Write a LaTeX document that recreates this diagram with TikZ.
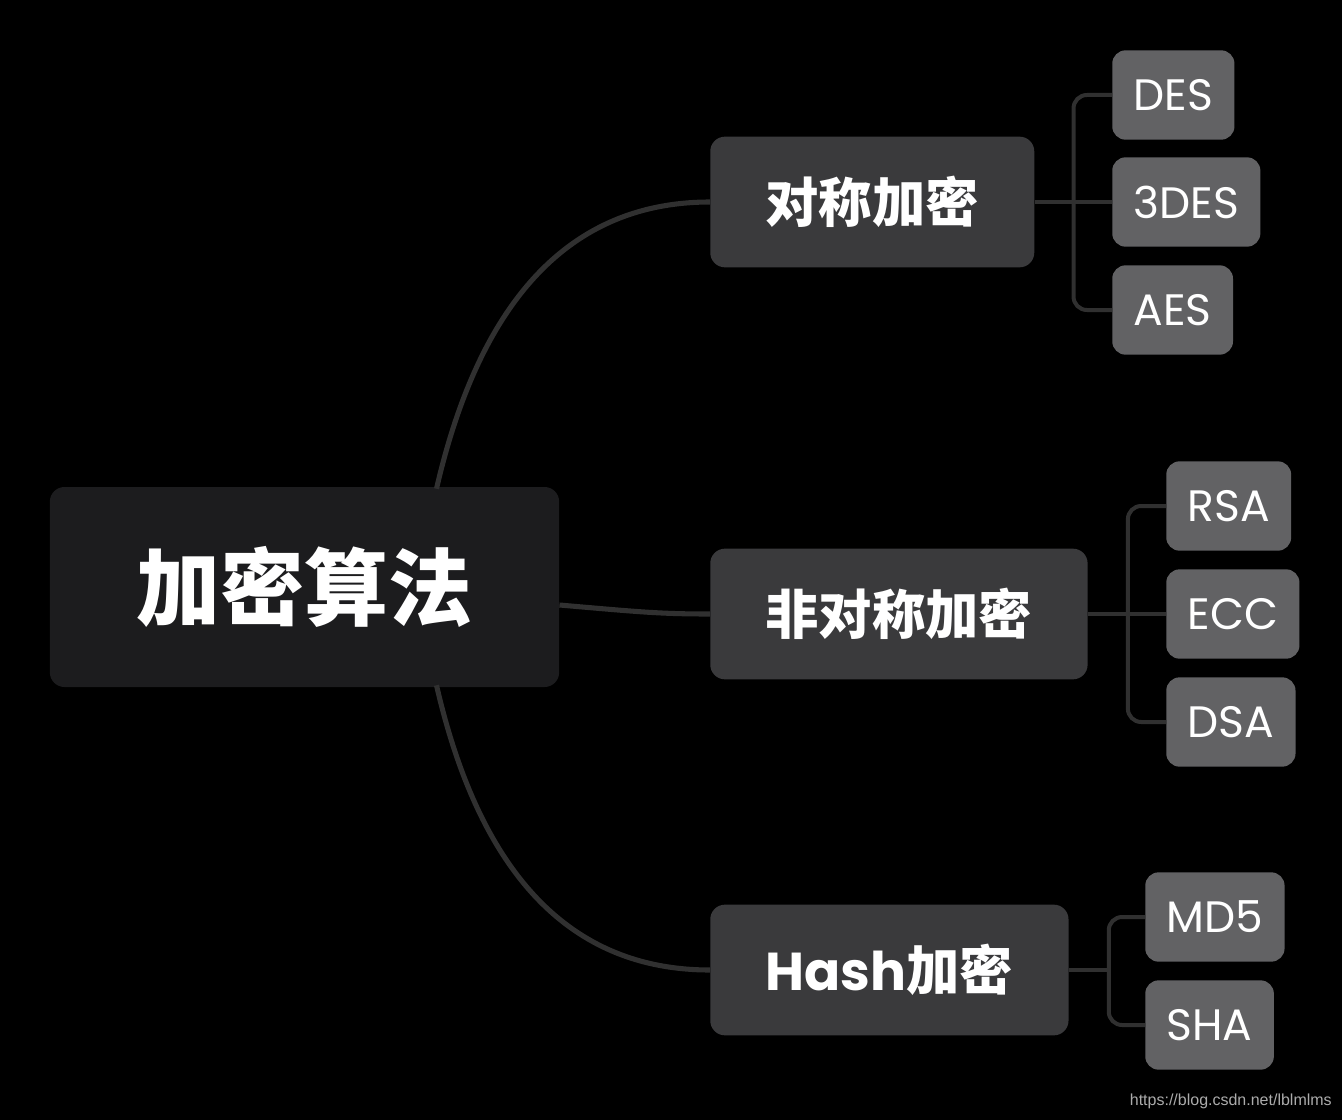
\documentclass[tikz,border=0pt]{standalone}
\usepackage{fontspec}
\setmainfont{Poppins}
\newfontfamily\cjk{Noto Sans CJK SC}
\newfontfamily\wmfont{Liberation Sans}
\usetikzlibrary{positioning}
\definecolor{rootfill}{HTML}{1C1C1E}
\definecolor{topicfill}{HTML}{3A3A3C}
\definecolor{leaffill}{HTML}{626264}
\definecolor{linkcol}{HTML}{303030}
\tikzset{
  x=0.75pt, y=-0.75pt,
  root/.style={fill=rootfill, rounded corners=11pt, text=white, inner xsep=65pt,
    minimum height=150pt, font=\cjk\bfseries\fontsize{63}{63}\selectfont},
  topic/.style={fill=topicfill, rounded corners=11pt, text=white, inner xsep=41.5pt,
    minimum height=98pt, anchor=west, font=\bfseries\fontsize{40}{40}\selectfont},
  leaf/.style={fill=leaffill, rounded corners=10pt, text=white, inner xsep=16pt,
    minimum height=67pt, anchor=west, font=\fontsize{33}{33}\selectfont},
  branch/.style={draw=linkcol, line width=3.8pt},
  bracket/.style={draw=linkcol, line width=3pt, rounded corners=10pt},
}

\begin{document}
\begin{tikzpicture}
  \fill[black] (0,0) rectangle (1342,1120);
  \useasboundingbox (0,0) rectangle (1342,1120);

  % main topic
  \node[root] (algo) at (304.5,587) {加密算法};

  % branches
  \node[topic] (sym)  at (710,202) {\cjk 对称加密};
  \node[topic] (asym) at (710,614) {\cjk 非对称加密};
  \node[topic] (hash) at (710,970) {Hash{\cjk 加密}};

  % leaves
  \node[leaf] (des)   at (1112,95)  {DES};
  \node[leaf] (tdes)  at (1112,202) {3DES};
  \node[leaf] (aes)   at (1112,310) {AES};
  \node[leaf] (rsa)   at (1166,506) {RSA};
  \node[leaf] (ecc)   at (1166,614) {ECC};
  \node[leaf] (dsa)   at (1166,722) {DSA};
  \node[leaf] (md)    at (1145,917) {MD5};
  \node[leaf] (sha)   at (1145,1025) {SHA};

  % curves from the root
  \draw[branch] (algo.north) ++(132,2) .. controls (480,300) and (570,202) .. (sym.west);
  \draw[branch] (algo.east) ++(0,18) .. controls (640,612) and (660,614) .. (asym.west);
  \draw[branch] (algo.south) ++(132,-2) .. controls (480,874) and (570,970) .. (hash.west);

  % brackets
  \path (sym.east) ++(39,0) coordinate (sj);
  \path (asym.east) ++(40,0) coordinate (aj);
  \path (hash.east) ++(40,0) coordinate (hj);
  \draw[bracket] (sym.east) -- (tdes.west);
  \draw[bracket] (des.west) -| (sj) |- (aes.west);
  \draw[bracket] (asym.east) -- (ecc.west);
  \draw[bracket] (rsa.west) -| (aj) |- (dsa.west);
  \draw[bracket] (hash.east) -- (hj);
  \draw[bracket] (md.west) -| (hj) |- (sha.west);

  % watermark
  \node[anchor=east, text=white!67!black, font=\wmfont\fontsize{12}{12}\selectfont, inner sep=0pt]
    (mark) at (1332,1101) {https://blog.csdn.net/lblmlms};
\end{tikzpicture}
\end{document}
